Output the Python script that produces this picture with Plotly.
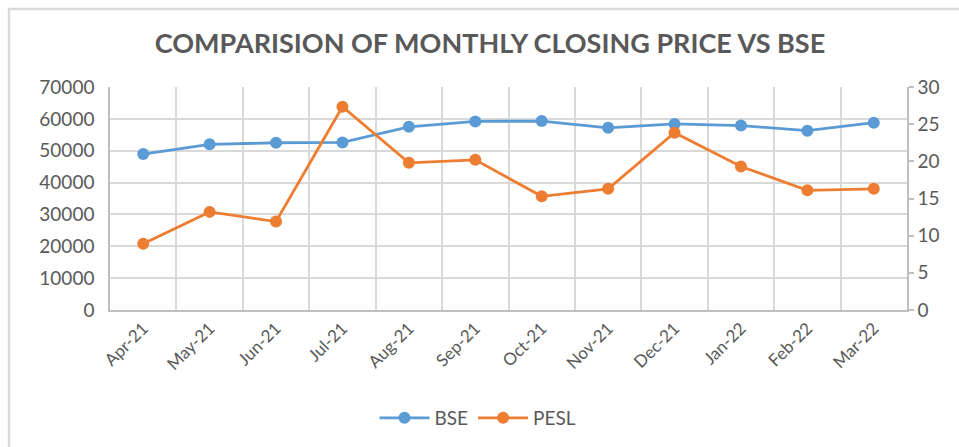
import plotly.graph_objects as go

months = ["Apr-21", "May-21", "Jun-21", "Jul-21", "Aug-21", "Sep-21",
          "Oct-21", "Nov-21", "Dec-21", "Jan-22", "Feb-22", "Mar-22"]
bse = [48950, 52000, 52500, 52600, 57500, 59200, 59300, 57200, 58400, 57900, 56300, 58800]
pesl = [8.9, 13.2, 11.9, 27.35, 19.8, 20.2, 15.3, 16.3, 23.85, 19.3, 16.1, 16.3]
left_ticks = [0, 10000, 20000, 30000, 40000, 50000, 60000, 70000]
left_labels = ["0", "10000", "20000", "30000", "40000", "50000", "60000", "70000"]
right_ticks = [0, 5, 10, 15, 20, 25, 30]

BLUE = "#5b9bd5"
ORANGE = "#ed7d31"
GRID = "#d9d9d9"
TXT = "#595959"
FONT = "Lato"

fig = go.Figure()
fig.add_trace(go.Scatter(x=months, y=bse, name="BSE", mode="lines+markers",
                         line=dict(color=BLUE, width=2.8),
                         marker=dict(color=BLUE, size=12)))
fig.add_trace(go.Scatter(x=months, y=pesl, name="PESL", mode="lines+markers",
                         yaxis="y2",
                         line=dict(color=ORANGE, width=2.8),
                         marker=dict(color=ORANGE, size=12)))

L, R, T, B = 110, 52, 87, 137
W, H = 959, 447
pw, ph = W - L - R, H - T - B


def px_x(px):
    return (px - L) / pw


def px_y(py):
    return 1 - (py - T) / ph


fig.update_layout(
    width=W, height=H,
    margin=dict(l=L, r=R, t=T, b=B, autoexpand=False),
    paper_bgcolor="white", plot_bgcolor="white",
    font=dict(family=FONT, color=TXT),
    title=dict(text="COMPARISION OF MONTHLY CLOSING PRICE VS BSE",
               x=490 / W, xanchor="center", y=1 - 44 / H, yanchor="middle",
               font=dict(family=FONT, size=27, color=TXT, weight="bold")),
    showlegend=True,
    legend=dict(orientation="h", x=px_x(478), xanchor="center",
                y=px_y(418), yanchor="middle",
                font=dict(family=FONT, size=19, color=TXT),
                itemwidth=50),
    xaxis=dict(type="category", tickson="boundaries", showgrid=True,
               gridcolor=GRID, gridwidth=1.5, showline=True,
               linecolor="#bfbfbf", linewidth=1.5, ticks="",
               tickangle=-45, tickfont=dict(family=FONT, size=17, color=TXT),
               range=[-0.5, 11.5]),
    yaxis=dict(range=[0, 70000], tickvals=left_ticks, ticktext=left_labels,
               showgrid=True, gridcolor=GRID, gridwidth=1.5, showline=True,
               linecolor="#bfbfbf", linewidth=1.5, ticks="",
               tickfont=dict(family=FONT, size=19, color=TXT),
               ticklabelstandoff=10, zeroline=False),
    yaxis2=dict(range=[0, 30], tickvals=right_ticks, overlaying="y",
                side="right", showgrid=False, showline=True,
                linecolor="#bfbfbf", linewidth=1.5, ticks="outside",
                ticklen=5, tickcolor="#bfbfbf", tickwidth=1.5,
                tickfont=dict(family=FONT, size=19, color=TXT),
                zeroline=False),
    shapes=[dict(type="rect", xref="paper", yref="paper",
                 x0=px_x(9), x1=px_x(W + 20),
                 y0=px_y(H + 20), y1=px_y(9),
                 line=dict(color=GRID, width=2.5), fillcolor="rgba(0,0,0,0)",
                 layer="below")],
)

fig.write_html("out.html", config={"displayModeBar": False},
               post_script="document.body.style.margin='0';"
                           "document.body.style.overflow='hidden';")
